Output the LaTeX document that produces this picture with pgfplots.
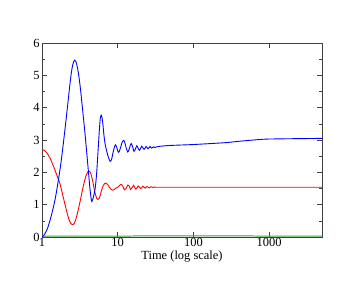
\documentclass[border=0pt]{standalone}
\usepackage{pgfplots}
\pgfplotsset{compat=1.18}
\usepackage{fontspec}
\setmainfont{Liberation Serif}
\definecolor{bl}{RGB}{0,0,255}
\definecolor{rd}{RGB}{255,0,0}
\definecolor{gr}{RGB}{60,165,60}
\begin{document}
\begin{tikzpicture}
\begin{axis}[
  scale only axis,
  width=280bp, height=194bp,
  xmode=log,
  xmin=1, xmax=5000,
  ymin=0, ymax=6,
  axis line style={black!75, line width=0.9pt},
  every tick/.style={black!75, line width=0.6pt},
  tick align=inside,
  major tick length=5bp,
  minor tick length=3bp,
  xtick={1,10,100,1000},
  xticklabels={1,10,100,1000},
  log basis x=10,
  ytick={0,1,2,3,4,5,6},
  minor ytick={0.5,1.5,2.5,3.5,4.5,5.5},
  /pgf/number format/assume math mode=true,
  tick label style={font=\fontsize{12.5}{14}\selectfont},
  xticklabel style={yshift=2bp},
  yticklabel style={xshift=1bp},
  xlabel={Time (log scale)},
  xlabel style={font=\fontsize{12.5}{14}\selectfont, yshift=3bp},
  clip=true,
]
\addplot[gr, line width=1pt] coordinates {(1,0.03) (10,0.03) (100,0.035) (1000,0.03) (5000,0.03)};
\addplot[rd, line width=0.9pt, smooth, tension=0.4] coordinates {
(1.00,2.70) (1.05,2.69) (1.10,2.66) (1.15,2.61) (1.20,2.55) (1.30,2.40) (1.40,2.22)
(1.50,2.04) (1.60,1.86) (1.70,1.70) (1.80,1.48) (1.90,1.25) (2.00,1.03) (2.10,0.83)
(2.20,0.65) (2.30,0.51) (2.40,0.42) (2.50,0.38) (2.60,0.39) (2.70,0.45) (2.80,0.55)
(2.90,0.68) (3.00,0.82) (3.20,1.12) (3.40,1.42) (3.60,1.68) (3.80,1.88) (4.00,2.00)
(4.15,2.04) (4.30,2.02) (4.50,1.90) (4.70,1.70) (4.90,1.48) (5.10,1.30) (5.30,1.19)
(5.50,1.16) (5.70,1.20) (5.90,1.30) (6.10,1.43) (6.40,1.58) (6.70,1.65) (7.00,1.67)
(7.40,1.62) (7.80,1.53) (8.20,1.47) (8.60,1.45) (9.00,1.47) (9.50,1.51) (10.0,1.54)
(10.5,1.59) (11.1,1.63) (11.7,1.57) (12.3,1.46) (12.9,1.50) (13.6,1.61) (14.2,1.58)
(14.8,1.47) (15.5,1.53) (16.2,1.60) (16.7,1.55) (17.3,1.48) (18.0,1.52) (18.6,1.58)
(19.3,1.55) (20.0,1.50) (20.7,1.52) (21.4,1.57) (22.2,1.545) (23.0,1.51) (23.7,1.53)
(24.4,1.56) (25.2,1.545) (26.0,1.52) (26.8,1.535) (27.5,1.555) (28.3,1.545) (29.1,1.53)
(30,1.54) (31,1.548) (32,1.54) (40,1.54) (100,1.54) (1000,1.54) (5000,1.54)
};
\addplot[bl, line width=0.9pt, smooth, tension=0.4] coordinates {
(1.00,0.00) (1.05,0.04) (1.10,0.11) (1.15,0.20) (1.20,0.31) (1.30,0.58) (1.40,0.88)
(1.50,1.20) (1.60,1.58) (1.70,1.97) (1.80,2.38) (1.90,2.83) (2.00,3.28) (2.10,3.72)
(2.20,4.15) (2.30,4.57) (2.40,4.95) (2.50,5.23) (2.60,5.40) (2.70,5.47) (2.80,5.43)
(2.90,5.30) (3.00,5.12) (3.12,4.85) (3.25,4.50) (3.40,4.05) (3.55,3.62) (3.70,3.20)
(3.85,2.75) (4.00,2.32) (4.15,1.90) (4.30,1.50) (4.45,1.20) (4.55,1.10) (4.70,1.18)
(4.85,1.30) (5.00,1.45) (5.15,1.70) (5.30,2.05) (5.45,2.50) (5.60,2.95) (5.75,3.38)
(5.90,3.68) (6.05,3.77) (6.20,3.70) (6.40,3.45) (6.60,3.12) (6.80,2.90) (7.00,2.75)
(7.50,2.48) (7.95,2.34) (8.30,2.40) (8.70,2.62) (9.05,2.78) (9.35,2.85) (9.70,2.78)
(10.0,2.66) (10.3,2.62) (10.7,2.70) (11.2,2.86) (11.6,2.96) (12.05,2.99) (12.5,2.90)
(13.0,2.74) (13.6,2.63) (14.1,2.70) (14.6,2.82) (15.1,2.89) (15.7,2.80) (16.4,2.65)
(17.1,2.72) (17.9,2.82) (18.6,2.75) (19.4,2.68) (20.1,2.74) (20.8,2.81) (21.5,2.76)
(22.3,2.71) (23.0,2.75) (23.7,2.80) (24.5,2.76) (25.2,2.73) (26.0,2.76) (26.7,2.80)
(27.4,2.77) (28.2,2.75) (29.0,2.77) (29.7,2.79) (30.5,2.775) (31.3,2.77) (32.0,2.78)
(33,2.79) (36,2.805) (48,2.83) (100,2.86) (200,2.90) (273,2.92) (400,2.96) (557,2.99)
(800,3.02) (1000,3.03) (2000,3.04) (5000,3.05)
};
\end{axis}
\path (current axis.south west) ++(-42bp,-44bp) rectangle ([shift={(41bp,43bp)}]current axis.north east);
\end{tikzpicture}
\end{document}
